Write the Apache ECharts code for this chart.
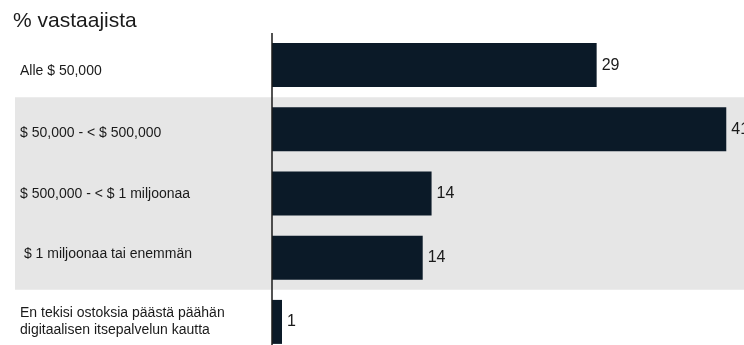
<!DOCTYPE html>
<html>
<head>
<meta charset="utf-8">
<script src="https://cdn.jsdelivr.net/npm/echarts@6/dist/echarts.min.js"></script>
<style>html,body{margin:0;padding:0;background:#fff;overflow:hidden}#c{width:744px;height:356px}</style>
</head>
<body>
<div id="c"></div>
<script>
var title = '% vastaajista';
var categories = [
  'Alle $ 50,000',
  '$ 50,000 - < $ 500,000',
  '$ 500,000 - < $ 1 miljoonaa',
  ' $ 1 miljoonaa tai enemmän',
  'En tekisi ostoksia päästä päähän\ndigitaalisen itsepalvelun kautta'
];
// bar lengths; labels show rounded values
var values = [29.3, 41, 14.4, 13.6, 0.9];
var bandColors = ['rgba(0,0,0,0)', '#e6e6e6', '#e6e6e6', '#e6e6e6', 'rgba(0,0,0,0)'];

// small vertical nudges of the category labels (style only)
var labelStyles = {
  r0: {padding: [12, 0, 0, 0]},
  r1: {padding: [8, 0, 0, 0]},
  r2: {padding: [2, 0, 0, 0]},
  r3: {padding: [0, 0, 8, 0]},
  r4: {padding: [0, 0, 0, 0]}
};
Object.keys(labelStyles).forEach(function (k) {
  labelStyles[k].fontSize = 14;
  labelStyles[k].lineHeight = 17;
  labelStyles[k].color = '#1a1a1a';
  labelStyles[k].fontFamily = 'Liberation Sans, Arial, sans-serif';
});

var chart = echarts.init(document.getElementById('c'), null, {renderer: 'canvas'});
chart.setOption({
  animation: false,
  textStyle: {fontFamily: 'Liberation Sans, Arial, sans-serif'},
  title: {
    text: title, left: 8, top: 6,
    textStyle: {fontSize: 21, fontWeight: 'normal', color: '#1a1a1a', fontFamily: 'Liberation Sans, Arial, sans-serif'}
  },
  grid: {left: 15, right: 0, top: 33, height: 321, containLabel: false},
  xAxis: {
    type: 'value', min: -23.2, max: 42.6, show: false,
    splitLine: {show: false}
  },
  yAxis: {
    type: 'category', data: categories, inverse: true,
    axisLine: {show: false, onZero: false}, axisTick: {show: false},
    axisLabel: {
      inside: true, margin: 5, align: 'left',
      fontSize: 14, color: '#1a1a1a', lineHeight: 17,
      fontFamily: 'Liberation Sans, Arial, sans-serif',
      formatter: function (v, i) {
        return v.split('\n').map(function (line) {
          return '{r' + i + '|' + line + '}';
        }).join('\n');
      },
      rich: labelStyles
    },
    splitArea: {show: true, areaStyle: {color: bandColors}},
    splitLine: {show: false}
  },
  series: [{
    type: 'bar', data: values, barWidth: 44,
    itemStyle: {color: '#0b1a28'},
    label: {
      show: true, position: 'right', distance: 5,
      fontSize: 16, color: '#1a1a1a',
      fontFamily: 'Liberation Sans, Arial, sans-serif',
      formatter: function (p) { return Math.round(p.value); }
    },
    markLine: {
      silent: true, symbol: 'none',
      label: {show: false},
      lineStyle: {color: '#1a1a1a', width: 1.5, type: 'solid'},
      data: [{xAxis: 0}]
    }
  }]
});
</script>
</body>
</html>
